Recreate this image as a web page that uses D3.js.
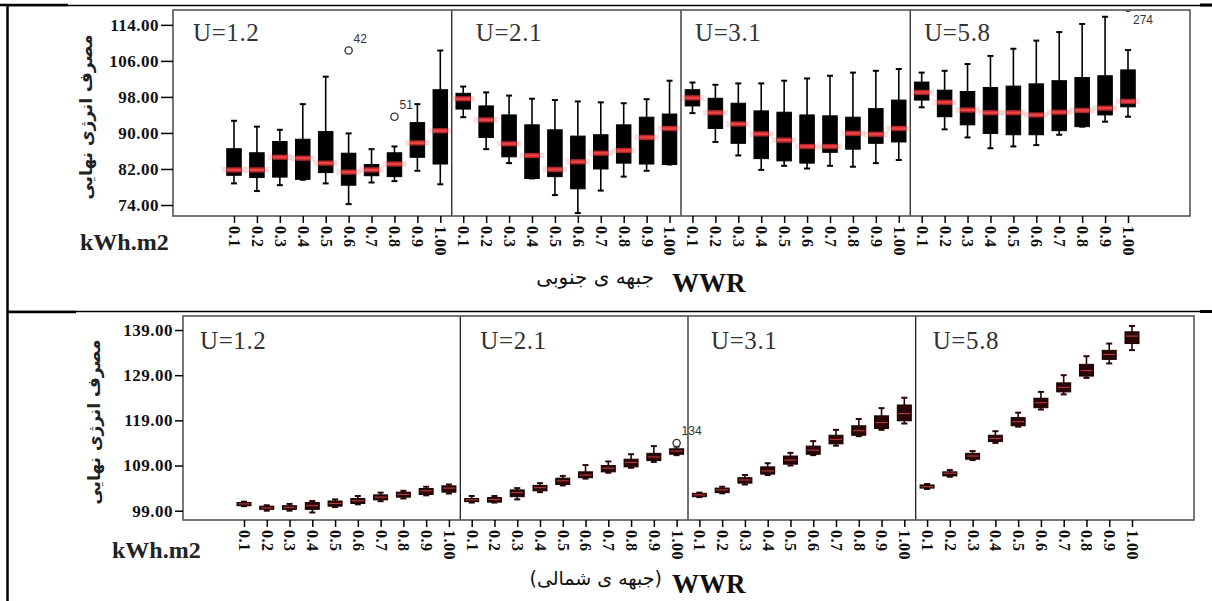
<!DOCTYPE html>
<html>
<head>
<meta charset="utf-8">
<script src="https://cdn.jsdelivr.net/npm/d3@7"></script>
<style>
  body { margin: 0; background: #fff; }
  svg { display: block; }
</style>
</head>
<body>
<div id="chart"></div>
<script>

// facets and categories
var uLabels = ["U=1.2", "U=2.1", "U=3.1", "U=5.8"],
	wwrLabels = ["0.1", "0.2", "0.3", "0.4", "0.5", "0.6", "0.7", "0.8", "0.9", "1.00"];

// south facade (top), 10 values per facet, U=1.2 | 2.1 | 3.1 | 5.8
var southMax = [92.7, 91.4, 90.7, 96.4, 102.5, 89.9, 86.4, 87.0, 96.4, 108.3,
	100.3, 99.0, 98.3, 97.6, 97.3, 97.0, 96.8, 96.6, 97.5, 101.6,
	101.2, 100.7, 101.0, 101.0, 101.6, 102.1, 102.7, 103.4, 103.8, 104.2,
	103.4, 103.8, 105.3, 107.1, 108.7, 110.5, 112.4, 114.2, 115.8, 108.4];
var southQ3 = [86.5, 85.6, 88.1, 88.6, 90.3, 85.5, 83.0, 85.6, 92.3, 99.6,
	98.8, 96.0, 94.0, 91.8, 90.7, 89.3, 89.6, 91.8, 93.5, 94.2,
	99.6, 97.7, 96.6, 94.9, 94.6, 94.0, 93.8, 93.5, 95.4, 97.3,
	101.3, 99.5, 99.2, 100.1, 100.4, 100.9, 101.6, 102.3, 102.7, 104.0];
var southMed = [81.8, 81.8, 84.6, 84.4, 83.3, 81.3, 81.8, 83.1, 87.8, 90.5,
	97.6, 92.9, 87.6, 85.0, 81.9, 83.6, 85.5, 86.1, 89.0, 91.0,
	97.8, 94.5, 92.0, 89.8, 88.4, 87.0, 87.0, 89.9, 89.7, 91.0,
	99.0, 96.8, 95.1, 94.5, 94.5, 94.0, 94.6, 95.0, 95.5, 97.0];
var southQ1 = [80.6, 80.1, 80.2, 79.7, 81.2, 78.4, 80.5, 80.3, 84.6, 83.1,
	95.3, 89.0, 84.7, 79.9, 80.3, 77.6, 82.0, 83.3, 83.1, 83.0,
	96.0, 91.0, 87.7, 84.3, 83.8, 83.3, 85.7, 86.4, 87.7, 88.0,
	97.3, 93.6, 91.8, 89.9, 89.6, 89.6, 90.5, 91.4, 94.0, 95.8];
var southMin = [78.8, 77.1, 78.4, 79.6, 78.8, 74.2, 79.0, 79.3, 81.6, 78.6,
	93.5, 86.4, 83.3, 79.9, 76.2, 72.2, 77.2, 80.3, 81.6, 83.0,
	94.4, 88.0, 85.0, 81.8, 82.7, 82.1, 82.7, 82.5, 83.3, 84.0,
	95.7, 90.8, 89.0, 86.6, 87.0, 87.3, 89.6, 91.4, 92.5, 93.6];
var southOutliers = [
	{ i: 5, v: 108.3, id: "42" },
	{ i: 7, v: 93.6, id: "51" },
	{ i: 39, v: 117.8, id: "274" }
];
var southTicks = [74, 82, 90, 98, 106, 114];

// north facade (bottom)
var northMax = [101.0, 100.2, 100.5, 101.15, 101.5, 102.25, 103.0, 103.4, 104.3, 104.8,
	102.25, 102.25, 104.0, 105.1, 106.7, 109.1, 109.9, 111.5, 113.3, 113.2,
	103.0, 104.3, 106.9, 109.5, 111.8, 114.4, 116.9, 119.3, 121.7, 124.0,
	104.9, 108.0, 112.2, 116.6, 120.7, 125.3, 129.0, 133.2, 136.0, 139.9];
var northQ3 = [100.8, 100.0, 100.1, 100.8, 101.15, 101.7, 102.5, 103.1, 103.9, 104.5,
	101.7, 101.9, 103.6, 104.6, 106.2, 107.6, 109.0, 110.4, 111.7, 112.7,
	102.85, 104.0, 106.3, 108.7, 111.1, 113.3, 115.7, 117.8, 120.0, 122.4,
	104.7, 107.6, 111.7, 115.7, 119.6, 123.9, 127.3, 131.4, 134.5, 138.6];
var northMed = [100.5, 99.6, 99.75, 100.1, 100.6, 101.2, 102.0, 102.6, 103.4, 104.0,
	101.4, 101.5, 103.0, 104.1, 105.6, 106.9, 108.4, 109.7, 110.9, 112.2,
	102.5, 103.6, 105.8, 107.8, 110.2, 112.4, 114.8, 116.7, 118.5, 120.5,
	104.3, 107.3, 111.1, 115.0, 118.7, 122.9, 126.3, 130.0, 133.6, 137.65];
var northQ1 = [100.1, 99.3, 99.3, 99.3, 100.0, 100.6, 101.4, 102.0, 102.6, 103.1,
	101.0, 100.9, 102.1, 103.4, 104.8, 106.3, 107.6, 108.7, 110.1, 111.5,
	102.1, 103.0, 105.1, 107.1, 109.3, 111.5, 113.8, 115.7, 117.2, 118.9,
	104.0, 106.7, 110.4, 114.3, 117.8, 121.8, 125.3, 128.8, 132.5, 136.0];
var northMin = [100.0, 99.0, 99.0, 98.6, 99.8, 100.4, 101.1, 101.7, 102.4, 102.8,
	100.8, 100.8, 101.5, 103.1, 104.6, 106.1, 107.4, 108.5, 109.8, 111.3,
	102.0, 102.85, 104.8, 106.9, 109.0, 111.3, 113.4, 115.5, 116.9, 118.3,
	103.8, 106.5, 110.2, 114.0, 117.6, 121.4, 124.75, 128.4, 131.6, 134.55];
var northOutliers = [
	{ i: 19, v: 114.0, id: "134" }
];
var northTicks = [99, 109, 119, 129, 139];

var yTitle = "مصرف انرژی نهایی",
	unitLabel = "kWh.m2",
	southTitle = "جبهه ی جنوبی",
	northTitle = "(جبهه ی شمالی)";

var SERIF = "'Liberation Serif', 'Times New Roman', Times, serif",
	ARAB = "'DejaVu Sans', sans-serif";

var width = 1212,
	height = 601;

var svg = d3.select("#chart")
	.append("svg")
	.attr("width", width)
	.attr("height", height);

svg.append("rect").attr("width", width).attr("height", height).attr("fill", "#fff");

// table-like border round the two figures
var border = svg.append("g").attr("stroke", "#000");
border.append("line").attr("x1", 7).attr("x2", width).attr("y1", 5.5).attr("y2", 5.5).attr("stroke-width", 1.5);
border.append("line").attr("x1", 7).attr("x2", width).attr("y1", 311.5).attr("y2", 311.5).attr("stroke-width", 1.5);
border.append("line").attr("x1", 7.5).attr("x2", 7.5).attr("y1", 4).attr("y2", height).attr("stroke-width", 2.5);
border.append("line").attr("x1", 0).attr("x2", 68).attr("y1", 5).attr("y2", 5).attr("stroke-width", 2.5);
border.append("line").attr("x1", 7).attr("x2", 76).attr("y1", 312).attr("y2", 312).attr("stroke-width", 2.5);
border.append("line").attr("x1", 1200).attr("x2", width).attr("y1", 5).attr("y2", 5).attr("stroke-width", 3);
border.append("line").attr("x1", 1200).attr("x2", width).attr("y1", 311.5).attr("y2", 311.5).attr("stroke-width", 3);

function build(mins, q1s, meds, q3s, maxs) {
	return d3.range(mins.length).map(function(i) {
		return { i: i, min: mins[i], q1: q1s[i], med: meds[i], q3: q3s[i], max: maxs[i] };
	});
}

var panels = [
	{
		name: "south",
		boxes: build(southMin, southQ1, southMed, southQ3, southMax),
		outliers: southOutliers,
		ticks: southTicks,
		domain: [71.56, 117.3],
		frame: { x0: 173, x1: 1190, y0: 10, y1: 216 },
		pts: [234, 1128],
		ytick: 12,
		boxW: 14.5,
		uY: 41, uDx: [20, 24, 14, 14],
		title: southTitle, titleY: 292, titleX: 654, titleSize: 20,
		yTitleX: 92, unitX: 80, unitY: 250,
		heavy: true
	},
	{
		name: "north",
		boxes: build(northMin, northQ1, northMed, northQ3, northMax),
		outliers: northOutliers,
		ticks: northTicks,
		domain: [96.94, 142.1],
		frame: { x0: 183, x1: 1194, y0: 316, y1: 520 },
		pts: [244, 1132],
		ytick: 8,
		boxW: 14,
		uY: 349, uDx: [17, 20, 23, 17],
		title: northTitle, titleY: 593, titleX: 662, titleSize: 19,
		yTitleX: 100, unitX: 112, unitY: 558,
		heavy: false
	}
];

panels.forEach(function(p) {

	var f = p.frame;

	var x = d3.scalePoint()
		.domain(d3.range(40))
		.range(p.pts);

	var y = d3.scaleLinear()
		.domain(p.domain)
		.range([f.y1, f.y0]);

	var g = svg.append("g").attr("class", p.name);

	g.append("clipPath").attr("id", "clip-" + p.name)
		.append("rect")
		.attr("x", f.x0).attr("y", f.y0)
		.attr("width", f.x1 - f.x0).attr("height", f.y1 - f.y0);

	// facet dividers
	var dividers = [10, 20, 30].map(function(k) { return (x(k - 1) + x(k)) / 2; });
	var lefts = [f.x0].concat(dividers);

	g.selectAll("line.divider")
		.data(dividers)
		.enter()
		.append("line")
		.attr("class", "divider")
		.attr("x1", function(d) { return d; })
		.attr("x2", function(d) { return d; })
		.attr("y1", f.y0)
		.attr("y2", f.y1)
		.attr("stroke", "#111")
		.attr("stroke-width", 1.2);

	// facet labels
	g.selectAll("text.ulabel")
		.data(uLabels)
		.enter()
		.append("text")
		.attr("class", "ulabel")
		.attr("x", function(d, i) { return lefts[i] + p.uDx[i]; })
		.attr("y", p.uY)
		.style("font-family", SERIF)
		.style("font-size", "25px")
		.style("letter-spacing", "0.6px")
		.attr("fill", "#333")
		.text(function(d) { return d; });

	var boxG = g.append("g").attr("clip-path", "url(#clip-" + p.name + ")");
	var ink = p.heavy ? "#000" : "#2a0606";
	var capW = 6;

	var box = boxG.selectAll("g.box")
		.data(p.boxes)
		.enter()
		.append("g")
		.attr("class", "box")
		.attr("transform", function(d) { return "translate(" + x(d.i) + ",0)"; });

	// whisker stem
	box.append("line")
		.attr("y1", function(d) { return y(d.max); })
		.attr("y2", function(d) { return y(d.min); })
		.attr("stroke", ink)
		.attr("stroke-width", 1.6);

	// caps
	box.selectAll("line.cap")
		.data(function(d) { return [d.max, d.min]; })
		.enter()
		.append("line")
		.attr("class", "cap")
		.attr("x1", -capW / 2)
		.attr("x2", capW / 2)
		.attr("y1", function(v) { return y(v); })
		.attr("y2", function(v) { return y(v); })
		.attr("stroke", ink)
		.attr("stroke-width", 2);

	box.append("rect")
		.attr("x", -p.boxW / 2)
		.attr("width", p.boxW)
		.attr("y", function(d) { return y(d.q3); })
		.attr("height", function(d) { return Math.max(1.5, y(d.q1) - y(d.q3)); })
		.attr("fill", ink)
		.attr("stroke", p.heavy ? "#000" : "#1a0000")
		.attr("stroke-width", 1);

	if (p.heavy) {
		// blurred red median band as in the scan
		box.append("line")
			.attr("x1", -p.boxW / 2 - 5)
			.attr("x2", p.boxW / 2 + 5)
			.attr("y1", function(d) { return y(d.med); })
			.attr("y2", function(d) { return y(d.med); })
			.attr("stroke", "rgba(235,90,90,0.18)")
			.attr("stroke-width", 6);
		box.append("line")
			.attr("x1", -p.boxW / 2)
			.attr("x2", p.boxW / 2)
			.attr("y1", function(d) { return y(d.med); })
			.attr("y2", function(d) { return y(d.med); })
			.attr("stroke", "#b8262a")
			.attr("stroke-width", 5);
		box.append("line")
			.attr("x1", -p.boxW / 2)
			.attr("x2", p.boxW / 2)
			.attr("y1", function(d) { return y(d.med); })
			.attr("y2", function(d) { return y(d.med); })
			.attr("stroke", "#ee4444")
			.attr("stroke-width", 2.2);
	} else {
		box.append("line")
			.attr("x1", -p.boxW / 2 + 1)
			.attr("x2", p.boxW / 2 - 1)
			.attr("y1", function(d) { return y(d.med); })
			.attr("y2", function(d) { return y(d.med); })
			.attr("stroke", "#c84040")
			.attr("stroke-width", 1);
	}

	// outliers
	boxG.selectAll("circle.out")
		.data(p.outliers)
		.enter()
		.append("circle")
		.attr("class", "out")
		.attr("cx", function(d) { return x(d.i); })
		.attr("cy", function(d) { return y(d.v); })
		.attr("r", 3.6)
		.attr("fill", "#fff")
		.attr("stroke", "#333")
		.attr("stroke-width", 1.3);

	g.selectAll("text.outlabel")
		.data(p.outliers)
		.enter()
		.append("text")
		.attr("class", "outlabel")
		.attr("x", function(d) { return x(d.i) + 5; })
		.attr("y", function(d) {
			var cy = y(d.v);
			return cy - 12 < f.y0 ? cy + 16 : cy - 8;
		})
		.style("font-family", "'Liberation Sans', Arial, sans-serif")
		.style("font-size", "12px")
		.attr("fill", "#333")
		.text(function(d) { return d.id; });

	// frame
	g.append("rect")
		.attr("x", f.x0).attr("y", f.y0)
		.attr("width", f.x1 - f.x0).attr("height", f.y1 - f.y0)
		.attr("fill", "none")
		.attr("stroke", "#555")
		.attr("stroke-width", 1.6);

	// axes
	var yAxis = g.append("g")
		.attr("transform", "translate(" + f.x0 + ",0)")
		.call(d3.axisLeft(y).tickValues(p.ticks).tickFormat(d3.format(".2f")).tickSize(p.ytick).tickPadding(2));
	yAxis.select(".domain").remove();
	yAxis.selectAll("line").attr("stroke", "#000").attr("stroke-width", 1.5);
	yAxis.selectAll("text")
		.style("font-family", SERIF)
		.style("font-size", "17px")
		.style("font-weight", "bold")
		.style("letter-spacing", "0.5px")
		.attr("fill", "#111");

	var xAxis = g.append("g")
		.attr("transform", "translate(0," + f.y1 + ")")
		.call(d3.axisBottom(x).tickFormat(function(i) { return wwrLabels[i % 10]; }).tickSize(7));
	xAxis.select(".domain").remove();
	xAxis.selectAll("line").attr("stroke", "#000").attr("stroke-width", 1.5);
	xAxis.selectAll("text")
		.style("font-family", SERIF)
		.style("font-size", "16px")
		.style("font-weight", "bold")
		.style("letter-spacing", "0.5px")
		.attr("fill", "#111")
		.attr("y", 0)
		.attr("x", 10)
		.attr("dy", "0.35em")
		.attr("transform", "rotate(90)")
		.style("text-anchor", "start");

	// titles
	g.append("text")
		.attr("transform", "translate(" + p.yTitleX + "," + ((f.y0 + f.y1) / 2 + 4) + ") rotate(-90)")
		.attr("text-anchor", "middle")
		.attr("direction", "rtl")
		.style("font-family", ARAB)
		.style("font-size", "17px")
		.style("font-weight", "bold")
		.attr("fill", "#222")
		.text(yTitle);

	g.append("text")
		.attr("x", p.unitX)
		.attr("y", p.unitY)
		.style("font-family", SERIF)
		.style("font-size", "24px")
		.style("font-weight", "bold")
		.attr("fill", "#222")
		.text(unitLabel);

	g.append("text")
		.attr("x", 672)
		.attr("y", p.titleY)
		.style("font-family", SERIF)
		.style("font-size", "27px")
		.style("font-weight", "bold")
		.attr("fill", "#111")
		.text("WWR");

	g.append("text")
		.attr("x", p.titleX)
		.attr("y", p.titleY - 8)
		.attr("text-anchor", "start")
		.attr("direction", "rtl")
		.style("font-family", ARAB)
		.style("font-size", p.titleSize + "px")
		.attr("fill", "#111")
		.text(p.title);
});

</script>
</body>
</html>
